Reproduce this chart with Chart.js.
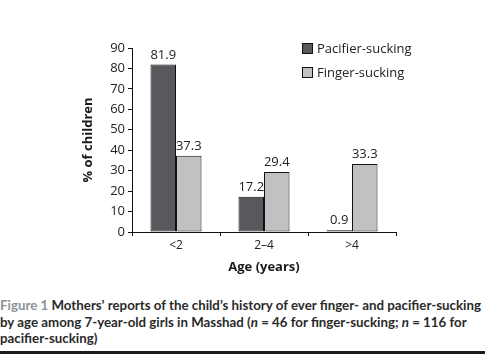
<!DOCTYPE html>
<html>
<head>
<meta charset="utf-8">
<script src="https://cdn.jsdelivr.net/npm/chart.js@4"></script>
<style>
html,body{margin:0;padding:0;background:#fff;}
body{width:502px;height:361px;position:relative;overflow:hidden;font-family:"Open Sans",sans-serif;}
#wrap{position:absolute;left:0;top:0;width:502px;height:290px;}
#legend{position:absolute;left:302px;top:36px;font-size:13px;color:#222;}
.li{display:flex;align-items:center;height:24px;}
.sw{width:9px;height:9px;border:1px solid #111;margin-right:4px;}
#caption{position:absolute;left:0;top:297px;width:502px;font-family:Lato,sans-serif;font-size:13.3px;line-height:16.5px;font-weight:700;color:#2a2a2a;white-space:nowrap;}
#caption .fig{color:#8c9196;font-weight:700;}
#rule{position:absolute;left:0;top:351px;width:485px;height:3px;background:#1a1a1a;}
</style>
</head>
<body>
<div id="wrap"><canvas id="c" width="502" height="290"></canvas></div>
<div id="legend"></div>
<div id="caption"><span class="fig">Figure 1</span> Mothers’ reports of the child’s history of ever finger- and pacifier-sucking<br>by age among 7-year-old girls in Masshad (<i>n</i> = 46 for finger-sucking; <i>n</i> = 116 for<br>pacifier-sucking)</div>
<div id="rule"></div>
<script>
const categories = ["<2", "2–4", ">4"];
const pacifier = [81.9, 17.2, 0.9];
const finger = [37.3, 29.4, 33.3];
const seriesNames = ["Pacifier-sucking", "Finger-sucking"];
const yTicks = [0, 10, 20, 30, 40, 50, 60, 70, 80, 90];
const colors = ["#59585c", "#c1c1c3"];

const lg = document.getElementById('legend');
seriesNames.forEach((n,i)=>{
  const d=document.createElement('div');d.className='li';
  d.innerHTML='<span class="sw" style="background:'+colors[i]+'"></span><span>'+n+'</span>';
  lg.appendChild(d);
});

const valueLabels = {
  id:'valueLabels',
  afterDatasetsDraw(chart){
    const ctx=chart.ctx;
    ctx.save();
    ctx.font='13px "Open Sans", sans-serif';
    ctx.fillStyle='#222';
    ctx.textAlign='center';
    ctx.textBaseline='bottom';
    chart.data.datasets.forEach((ds,di)=>{
      chart.getDatasetMeta(di).data.forEach((bar,i)=>{
        ctx.fillText(ds.data[i].toFixed(1), bar.x, bar.y-3);
      });
    });
    ctx.restore();
  }
};

new Chart(document.getElementById('c'),{
  type:'bar',
  data:{
    labels:categories,
    datasets:[
      {label:seriesNames[0],data:pacifier,backgroundColor:colors[0],borderColor:'#111',borderWidth:1,borderSkipped:false},
      {label:seriesNames[1],data:finger,backgroundColor:colors[1],borderColor:'#111',borderWidth:1,borderSkipped:false}
    ]
  },
  options:{
    responsive:false,
    animation:false,
    devicePixelRatio:1,
    layout:{padding:{left:0,right:106,top:48,bottom:13}},
    plugins:{legend:{display:false},tooltip:{enabled:false}},
    datasets:{bar:{barPercentage:1,categoryPercentage:0.58}},
    scales:{
      x:{
        offset:true,
        grid:{display:true,offset:true,drawOnChartArea:false,tickLength:4,color:'#111',tickColor:'#111'},
        border:{display:true,color:'#111',width:1},
        ticks:{color:'#222',font:{family:'"Open Sans", sans-serif',size:12},padding:2},
        title:{display:true,text:'Age (years)',color:'#1a1a1a',font:{family:'"Open Sans", sans-serif',size:13,weight:'bold'},padding:{top:0,bottom:2}},
        afterFit(s){s.height=45;}
      },
      y:{
        min:0,max:90,
        afterBuildTicks(s){s.ticks=yTicks.map(v=>({value:v}));},
        grid:{display:true,drawOnChartArea:false,tickLength:4,color:'#111',tickColor:'#111'},
        border:{display:true,color:'#111',width:1},
        ticks:{color:'#222',font:{family:'"Open Sans", sans-serif',size:13},padding:3},
        title:{display:true,text:'% of children',color:'#1a1a1a',font:{family:'"Open Sans", sans-serif',size:13,weight:'bold'},padding:{top:80,bottom:0}},
        afterFit(s){s.width=132;}
      }
    }
  },
  plugins:[valueLabels]
});
</script>
</body>
</html>
